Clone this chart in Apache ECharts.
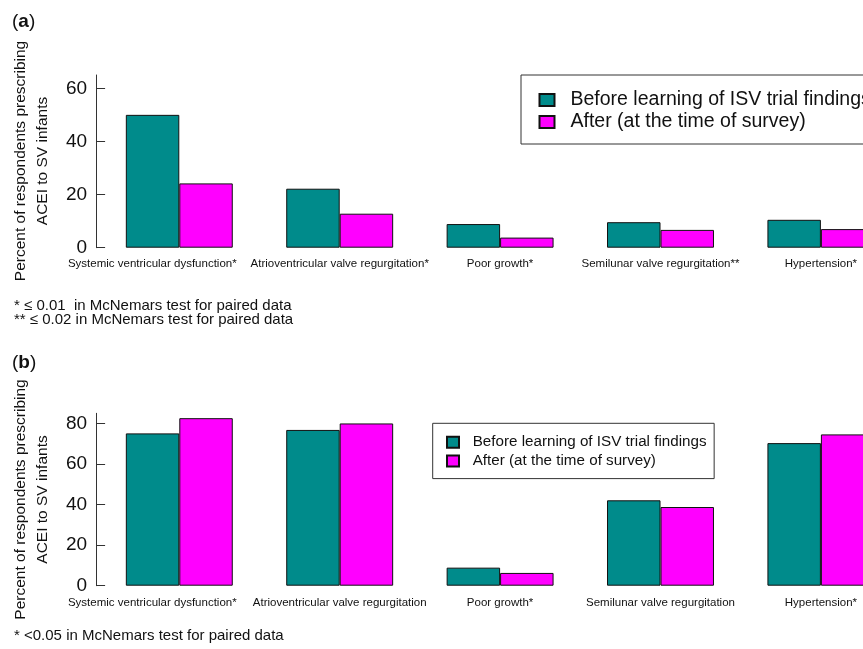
<!DOCTYPE html>
<html>
<head>
<meta charset="utf-8">
<script src="https://cdn.jsdelivr.net/npm/echarts@6/dist/echarts.min.js"></script>
<style>
html,body{margin:0;padding:0;background:#fff;}
#chart{width:863px;height:649px;}
</style>
</head>
<body>
<div id="chart"></div>
<script>
const nameBefore = 'Before learning of ISV trial findings';
const nameAfter = 'After (at the time of survey)';

const categoriesA = ['Systemic ventricular dysfunction*', 'Atrioventricular valve regurgitation*', 'Poor growth*', 'Semilunar valve regurgitation**', 'Hypertension*'];
const beforeA = [50, 22.2, 8.9, 9.6, 10.5];
const afterA = [24.2, 12.8, 3.8, 6.7, 7.0];
const ticksA = [0, 20, 40, 60];

const categoriesB = ['Systemic ventricular dysfunction*', 'Atrioventricular valve regurgitation', 'Poor growth*', 'Semilunar valve regurgitation', 'Hypertension*'];
const beforeB = [75.1, 76.8, 8.9, 42.1, 70.3];
const afterB = [82.6, 80.0, 6.3, 38.8, 74.6];
const ticksB = [0, 20, 40, 60, 80];

const notesA = ['* \u2264 0.01  in McNemars test for paired data', '** \u2264 0.02 in McNemars test for paired data'];
const notesB = ['* <0.05 in McNemars test for paired data'];
const yTitle1 = 'Percent of respondents prescribing';
const yTitle2 = 'ACEI to SV infants';

const FONT = '"Liberation Sans", Arial, sans-serif';
const TEAL = '#008b8b';
const MAGENTA = '#ff00ff';

const chart = echarts.init(document.getElementById('chart'), null, {renderer: 'canvas'});

function yAxisCfg(gi, max, ticks) {
  return {
    gridIndex: gi, type: 'value', min: 0, max: max, offset: 3,
    axisLine: {show: true, lineStyle: {color: '#333', width: 1}},
    axisTick: {show: true, inside: true, length: 9, customValues: ticks, lineStyle: {color: '#333', width: 1}},
    axisLabel: {customValues: ticks, fontSize: 19, color: '#111', margin: 9, fontFamily: FONT},
    splitLine: {show: false}
  };
}
function xAxisCfg(gi, cats, margin) {
  // the first label sits left of its group centre in the original figure
  const data = cats.map(function (c, i) {
    return i === 0 ? {value: c, textStyle: {padding: [0, 54, 0, 0]}} : c;
  });
  return {
    gridIndex: gi, type: 'category', data: data,
    axisLine: {show: false}, axisTick: {show: false},
    axisLabel: {interval: 0, fontSize: 11.5, color: '#111', margin: margin, fontFamily: FONT, hideOverlap: false},
    splitLine: {show: false}
  };
}
function barSeries(name, gi, data, color) {
  return {
    name: name, type: 'bar', xAxisIndex: gi, yAxisIndex: gi, data: data,
    barGap: '0%', barCategoryGap: '33.33%',
    itemStyle: {color: color, borderColor: '#111', borderWidth: 1},
    emphasis: {disabled: true}, animation: false
  };
}
function textEl(text, x, y, size) {
  return {
    type: 'text', x: x, y: y, silent: true,
    style: {text: text, fill: '#111', font: size + 'px ' + FONT, textAlign: 'left', textVerticalAlign: 'middle'}
  };
}
function vText(text, x, y, size) {
  return {
    type: 'text', x: x, y: y, rotation: Math.PI / 2, silent: true,
    style: {text: text, fill: '#111', font: size + 'px ' + FONT, textAlign: 'center', textVerticalAlign: 'middle'}
  };
}
function panelLabel(letter, x, y) {
  return {
    type: 'text', x: x, y: y, silent: true,
    style: {
      text: '{n|(}{b|' + letter + '}{n|)}',
      textVerticalAlign: 'middle',
      rich: {
        n: {fontSize: 19, fontFamily: FONT, fill: '#111', color: '#111'},
        b: {fontSize: 19, fontFamily: FONT, fontWeight: 'bold', fill: '#111', color: '#111'}
      }
    }
  };
}

const option = {
  animation: false,
  backgroundColor: '#fff',
  grid: [
    {left: 99.1, right: -38.1, top: 75, bottom: 401.3, containLabel: false, outerBoundsMode: 'none'},
    {left: 99.1, right: -38.1, top: 413.3, bottom: 63.3, containLabel: false, outerBoundsMode: 'none'}
  ],
  xAxis: [xAxisCfg(0, categoriesA, 10), xAxisCfg(1, categoriesB, 11)],
  yAxis: [yAxisCfg(0, 65, ticksA), yAxisCfg(1, 85, ticksB)],
  legend: [
    {
      left: 521, top: 75, orient: 'vertical', icon: 'rect',
      padding: [14, 40, 11, 17.5], itemGap: 0, itemWidth: 15, itemHeight: 12,
      borderColor: '#333', borderWidth: 1, backgroundColor: '#fff',
      selectedMode: false,
      textStyle: {fontSize: 19.5, lineHeight: 22, padding: [0, 0, 0, 11], color: '#111', fontFamily: FONT},
      data: [nameBefore, nameAfter]
    },
    {
      left: 432.7, top: 423.3, orient: 'vertical', icon: 'rect',
      padding: [9.6, 7.6, 8.3, 13.3], itemGap: 0, itemWidth: 12, itemHeight: 11,
      borderColor: '#333', borderWidth: 1, backgroundColor: '#fff',
      selectedMode: false,
      textStyle: {fontSize: 15.2, lineHeight: 18.7, padding: [0, 0, 0, 8.7], color: '#111', fontFamily: FONT},
      data: [nameBefore, nameAfter]
    }
  ],
  series: [
    barSeries(nameBefore, 0, beforeA, TEAL),
    barSeries(nameAfter, 0, afterA, MAGENTA),
    barSeries(nameBefore, 1, beforeB, TEAL),
    barSeries(nameAfter, 1, afterB, MAGENTA)
  ],
  graphic: [
    panelLabel('a', 12, 22),
    panelLabel('b', 12, 363),
    vText(yTitle1, 21, 161, 15.5),
    vText(yTitle2, 43, 161, 15.5),
    vText(yTitle1, 21, 499.5, 15.5),
    vText(yTitle2, 43, 499.5, 15.5),
    textEl(notesA[0], 14, 306, 15),
    textEl(notesA[1], 14, 320, 15),
    textEl(notesB[0], 14, 636, 15)
  ]
};
chart.setOption(option);
</script>
</body>
</html>
